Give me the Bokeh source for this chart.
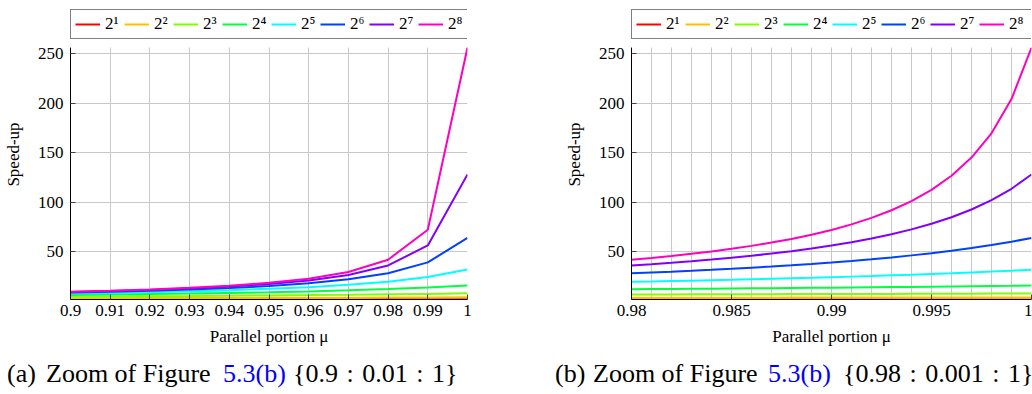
from bokeh.plotting import figure
from bokeh.models import (Range1d, FixedTicker, CustomJSTickFormatter, Legend,
                          LegendItem, Div, BoxAnnotation)
from bokeh.layouts import row, column
from bokeh.embed import file_html
from bokeh.resources import INLINE

# ---------------- data ----------------
series_labels = ["2¹", "2²", "2³", "2⁴", "2⁵", "2⁶", "2⁷", "2⁸"]
series_colors = ["#ff0000", "#ffbf00", "#80ff00", "#00ff40",
                 "#00ffff", "#0040ff", "#8000ff", "#ff00bf"]

# panel (a): mu = 0.9 : 0.01 : 1
a_mu = [0.90, 0.91, 0.92, 0.93, 0.94, 0.95, 0.96, 0.97, 0.98, 0.99, 1.00]
a_n2 = [1.82, 1.83, 1.85, 1.87, 1.89, 1.90, 1.92, 1.94, 1.96, 1.98, 2.00]
a_n4 = [3.08, 3.15, 3.23, 3.31, 3.39, 3.48, 3.57, 3.67, 3.77, 3.88, 4.00]
a_n8 = [4.71, 4.91, 5.13, 5.37, 5.63, 5.93, 6.25, 6.61, 7.02, 7.48, 8.00]
a_n16 = [6.40, 6.81, 7.27, 7.80, 8.42, 9.14, 10.00, 11.03, 12.31, 13.91, 16.00]
a_n32 = [7.80, 8.44, 9.20, 10.09, 11.19, 12.55, 14.29, 16.58, 19.75, 24.43, 32.00]
a_n64 = [8.77, 9.60, 10.60, 11.83, 13.39, 15.42, 18.18, 22.15, 28.32, 39.26, 64.00]
a_n128 = [9.34, 10.30, 11.47, 12.94, 14.85, 17.42, 21.05, 26.61, 36.16, 56.39, 128.00]
a_n256 = [9.66, 10.69, 11.96, 13.58, 15.71, 18.62, 22.86, 29.59, 41.97, 72.11, 256.00]
a_xticks = [0.90, 0.91, 0.92, 0.93, 0.94, 0.95, 0.96, 0.97, 0.98, 0.99, 1.00]

# panel (b): mu = 0.98 : 0.001 : 1
b_mu = [0.980, 0.981, 0.982, 0.983, 0.984, 0.985, 0.986, 0.987, 0.988, 0.989, 0.990,
        0.991, 0.992, 0.993, 0.994, 0.995, 0.996, 0.997, 0.998, 0.999, 1.000]
b_n2 = [1.96, 1.96, 1.96, 1.97, 1.97, 1.97, 1.97, 1.97, 1.98, 1.98, 1.98,
        1.98, 1.98, 1.99, 1.99, 1.99, 1.99, 1.99, 2.00, 2.00, 2.00]
b_n4 = [3.77, 3.78, 3.80, 3.81, 3.82, 3.83, 3.84, 3.85, 3.86, 3.87, 3.88,
        3.90, 3.91, 3.92, 3.93, 3.94, 3.95, 3.96, 3.98, 3.99, 4.00]
b_n8 = [7.02, 7.06, 7.10, 7.15, 7.19, 7.24, 7.29, 7.33, 7.38, 7.43, 7.48,
        7.53, 7.58, 7.63, 7.68, 7.73, 7.78, 7.84, 7.89, 7.94, 8.00]
b_n16 = [12.31, 12.45, 12.60, 12.75, 12.90, 13.06, 13.22, 13.39, 13.56, 13.73, 13.91,
         14.10, 14.29, 14.48, 14.68, 14.88, 15.09, 15.31, 15.53, 15.76, 16.00]
b_n32 = [19.75, 20.14, 20.54, 20.96, 21.39, 21.84, 22.32, 22.81, 23.32, 23.86, 24.43,
         25.02, 25.64, 26.29, 26.98, 27.71, 28.47, 29.28, 30.13, 31.04, 32.00]
b_n64 = [28.32, 29.13, 29.99, 30.90, 31.87, 32.90, 34.01, 35.18, 36.45, 37.80, 39.26,
         40.84, 42.55, 44.41, 46.44, 48.67, 51.12, 53.83, 56.84, 60.21, 64.00]
b_n128 = [36.16, 37.50, 38.95, 40.52, 42.22, 44.06, 46.08, 48.28, 50.71, 53.40, 56.39,
          59.73, 63.49, 67.76, 72.65, 78.29, 84.88, 92.69, 102.07, 113.58, 128.00]
b_n256 = [41.97, 43.80, 45.80, 47.99, 50.39, 53.06, 56.02, 59.33, 63.05, 67.28, 72.11,
          77.69, 84.21, 91.92, 101.19, 112.53, 126.73, 145.04, 169.54, 203.98, 256.00]
b_xticks = [0.980, 0.985, 0.990, 0.995, 1.000]
b_xminor = [0.980, 0.981, 0.982, 0.983, 0.984, 0.985, 0.986, 0.987, 0.988, 0.989, 0.990,
            0.991, 0.992, 0.993, 0.994, 0.995, 0.996, 0.997, 0.998, 0.999, 1.000]

y_ticks = [50, 100, 150, 200, 250]

caption_a = ["(a)", "Zoom of Figure", "5.3(b)", "{0.9 : 0.01 : 1}"]
caption_b = ["(b)", "Zoom of Figure", "5.3(b)", "{0.98 : 0.001 : 1}"]

FONT = "Liberation Serif"
GRID = "#c8c8c8"

PLOT_H = 252      # pixel height of the data area
HEAD = 38         # pixels above the data area reserved for the legend


def make_panel(xs, series, xticks, xminor, width, b_left, b_right):
    ymin = min(series[0])
    ymax = max(series[-1])
    ytop = ymax + (ymax - ymin) * HEAD / PLOT_H
    p = figure(width=width, height=350,
               x_range=Range1d(xs[0], xs[-1]),
               y_range=Range1d(ymin, ytop),
               min_border_left=b_left, min_border_right=b_right,
               min_border_top=9, min_border_bottom=51,
               output_backend="svg", toolbar_location=None)
    p.outline_line_color = None
    p.background_fill_color = "white"

    renderers = []
    for ys, col in zip(series, series_colors):
        r = p.line(xs, ys, line_color=col, line_width=2)
        renderers.append(r)

    p.xaxis.ticker = FixedTicker(ticks=xticks, minor_ticks=xminor)
    p.yaxis.ticker = FixedTicker(ticks=y_ticks, minor_ticks=[])
    p.yaxis.bounds = (ymin, ymax)
    p.xaxis.formatter = CustomJSTickFormatter(code="return String(Number(tick.toFixed(4)));")
    for ax in (p.xaxis[0], p.yaxis[0]):
        ax.axis_line_color = "black"
        ax.axis_line_width = 1
        ax.major_tick_in = 5
        ax.major_tick_out = 0
        ax.major_tick_line_color = "#444444"
        ax.minor_tick_in = 0
        ax.minor_tick_out = 0
        ax.major_label_text_font = FONT
        ax.major_label_text_font_size = "17px"
        ax.major_label_text_color = "black"
        ax.axis_label_text_font = FONT
        ax.axis_label_text_font_size = "17px"
        ax.axis_label_text_font_style = "normal"
        ax.axis_label_text_color = "black"
    p.xaxis.axis_label = "Parallel portion μ"
    p.yaxis.axis_label = "Speed-up"
    p.xaxis.major_label_standoff = 5
    p.xaxis.axis_label_standoff = 8
    p.yaxis.major_label_standoff = 7
    p.yaxis.axis_label_standoff = 12

    p.xgrid.grid_line_color = GRID
    p.ygrid.grid_line_color = GRID
    p.xgrid.minor_grid_line_color = GRID if xminor else None
    p.xgrid.grid_line_width = 1
    p.ygrid.grid_line_width = 1

    # blank band above the data area (holds the legend)
    p.add_layout(BoxAnnotation(bottom=ymax, fill_color="white", fill_alpha=1.0,
                               line_color=None))

    items = [LegendItem(label=lab, renderers=[r]) for lab, r in zip(series_labels, renderers)]
    legend = Legend(items=items, orientation="horizontal", location=(0, PLOT_H + 8),
                    border_line_color="black", border_line_width=1,
                    background_fill_color="white", background_fill_alpha=1.0,
                    label_text_font=FONT, label_text_font_size="17px",
                    label_text_color="black",
                    glyph_width=25, glyph_height=20, label_standoff=5,
                    label_width=19, label_height=20, spacing=0, padding=4, margin=0)
    p.add_layout(legend)
    return p


pa = make_panel(a_mu, [a_n2, a_n4, a_n8, a_n16, a_n32, a_n64, a_n128, a_n256],
                a_xticks, [], 520, 68, 53)
pb = make_panel(b_mu, [b_n2, b_n4, b_n8, b_n16, b_n32, b_n64, b_n128, b_n256],
                b_xticks, b_xminor, 512, 111, 1)


def caption_html(parts, lefts):
    spans = []
    colors = ["black", "black", "#0000ff", "black"]
    wsp = [0, 0, 0, 2]
    for txt, left, col, ws in zip(parts, lefts, colors, wsp):
        spans.append(
            '<span style="position:absolute;left:%dpx;top:11px;color:%s;'
            'white-space:nowrap;word-spacing:%dpx;">%s</span>' % (left, col, ws, txt))
    return "".join(spans)


cap_html = ('<div style="position:relative;width:1032px;height:44px;'
            'font-family:\'Liberation Serif\';font-size:26px;line-height:26px;">'
            + caption_html(caption_a, [7, 46, 223, 293])
            + caption_html(caption_b, [555, 593, 768, 843])
            + '</div>')
cap = Div(text=cap_html, width=1032, height=44, margin=0)

layout = column(row(pa, pb), cap, spacing=0)
open("out.html", "w").write(file_html(layout, INLINE))
